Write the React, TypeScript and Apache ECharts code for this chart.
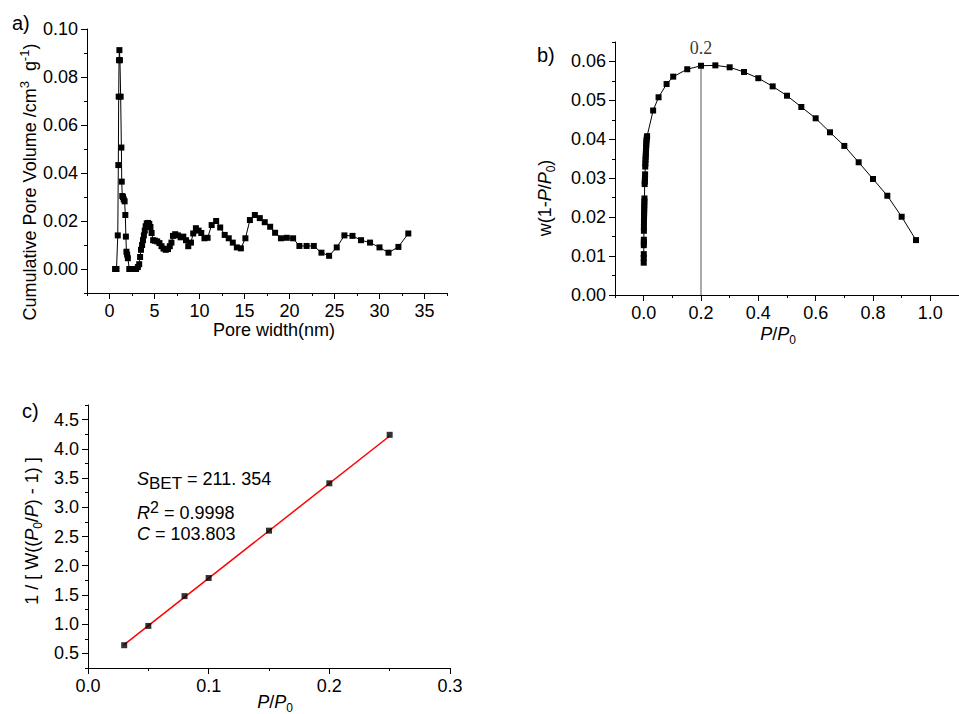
import React, { useEffect, useRef } from "react";
import * as echarts from "echarts";

// ---------- Panel a: pore size distribution ----------
const aPoreWidth = [
  0.62, 0.78, 0.92, 0.98, 1.02, 1.06, 1.1, 1.16, 1.24, 1.32,
  1.36, 1.42, 1.5, 1.58, 1.68, 1.76, 1.82, 1.88, 1.96, 2.04,
  2.2, 2.45, 2.7, 2.95, 3.15, 3.3, 3.4, 3.5, 3.62, 3.72,
  3.82, 3.92, 4.02, 4.14, 4.28, 4.42, 4.55, 4.68, 4.85, 5.05,
  5.3, 5.55, 5.78, 6.0, 6.25, 6.5, 6.7, 6.88, 7.05, 7.3,
  7.6, 7.9, 8.2, 8.5, 8.75, 9.05, 9.3, 9.6, 9.9, 10.2,
  10.55, 10.9, 11.35, 11.85, 12.3, 12.8, 13.25, 13.7, 14.15, 14.6,
  15.1, 15.6, 16.15, 16.7, 17.25, 17.85, 18.4, 19.05, 19.7, 20.4,
  21.1, 21.9, 22.7, 23.55, 24.4, 25.25, 26.1, 27.0, 27.95, 28.95,
  30.0, 31.0, 32.1, 33.2,
];
const aPoreVolume = [
  0.0, 0.0, 0.014, 0.0433, 0.0718, 0.087, 0.0912, 0.087, 0.0718, 0.0506,
  0.0364, 0.0304, 0.03, 0.029, 0.0282, 0.0225, 0.0135, 0.0072, 0.006, 0.0045,
  0.0, 0.0, 0.0, 0.0, 0.0008, 0.002, 0.005, 0.008, 0.01, 0.012,
  0.014, 0.016, 0.0178, 0.019, 0.0192, 0.0188, 0.0175, 0.015, 0.012, 0.0118,
  0.0115, 0.0108, 0.0095, 0.0085, 0.008, 0.0083, 0.0095, 0.011, 0.0138, 0.0145,
  0.014, 0.0132, 0.0135, 0.012, 0.0095, 0.011, 0.0148, 0.017, 0.016, 0.015,
  0.0128, 0.013, 0.0183, 0.02, 0.0173, 0.0142, 0.0128, 0.011, 0.009, 0.0086,
  0.0128, 0.0204, 0.0225, 0.0212, 0.0195, 0.0176, 0.0151, 0.0128, 0.013, 0.0128,
  0.0096, 0.0096, 0.0096, 0.0068, 0.0055, 0.009, 0.014, 0.0138, 0.012, 0.011,
  0.009, 0.0068, 0.0092, 0.0148,
];
const aXLabels = [0, 5, 10, 15, 20, 25, 30, 35];
const aXMinor = [-2.5, 2.5, 7.5, 12.5, 17.5, 22.5, 27.5, 32.5, 37.5];
const aYLabels = [0.0, 0.02, 0.04, 0.06, 0.08, 0.1];
const aYMinor = [-0.01, 0.01, 0.03, 0.05, 0.07, 0.09];

// ---------- Panel b: w(1-P/P0) vs P/P0 ----------
const bRelPressure = [
  0.0002, 0.0003, 0.0004, 0.0005, 0.0006, 0.0007, 0.0008, 0.0009, 0.001, 0.0012,
  0.0014, 0.0016, 0.0018, 0.002, 0.0022, 0.0025, 0.0028, 0.0035, 0.004, 0.0045,
  0.005, 0.0055, 0.006, 0.0065, 0.007, 0.0075, 0.008, 0.0085, 0.009, 0.0095,
  0.01, 0.011, 0.012, 0.033, 0.052, 0.08, 0.103, 0.152, 0.2, 0.25,
  0.3, 0.35, 0.4, 0.45, 0.5, 0.55, 0.6, 0.65, 0.7, 0.75,
  0.8, 0.85, 0.9, 0.95,
];
const bWValue = [
  0.0083, 0.0095, 0.0105, 0.0128, 0.0135, 0.0142, 0.0165, 0.0175, 0.0188, 0.0195,
  0.0203, 0.021, 0.0218, 0.0225, 0.0232, 0.024, 0.0248, 0.0285, 0.0292, 0.03,
  0.031, 0.033, 0.0338, 0.0347, 0.0355, 0.0362, 0.037, 0.0378, 0.0385, 0.0392,
  0.0398, 0.0404, 0.0408, 0.0474, 0.0508, 0.0542, 0.0561, 0.058, 0.0589, 0.059,
  0.0585, 0.0573, 0.0557, 0.0536, 0.0512, 0.0483, 0.0454, 0.0418, 0.0383, 0.0341,
  0.0298, 0.0255, 0.0201, 0.0141,
];
const bMarkerP = 0.2;
const bXLabels = [0.0, 0.2, 0.4, 0.6, 0.8, 1.0];
const bXMinor = [-0.1, 0.1, 0.3, 0.5, 0.7, 0.9, 1.1];
const bYLabels = [0.0, 0.01, 0.02, 0.03, 0.04, 0.05, 0.06];
const bYMinor = [0.005, 0.015, 0.025, 0.035, 0.045, 0.055, 0.065];

// ---------- Panel c: BET plot ----------
const cRelPressure = [0.03, 0.05, 0.08, 0.1, 0.15, 0.2, 0.25];
const cBETValue = [0.64, 0.97, 1.48, 1.79, 2.6, 3.41, 4.24];
const cFitX = [0.03, 0.25];
const cFitY = [0.65, 4.22];
const cXLabels = [0.0, 0.1, 0.2, 0.3];
const cXMinor = [0.05, 0.15, 0.25];
const cYLabels = [0.5, 1.0, 1.5, 2.0, 2.5, 3.0, 3.5, 4.0, 4.5];
const cYMinor = [0.25, 0.75, 1.25, 1.75, 2.25, 2.75, 3.25, 3.75, 4.25, 4.75];

const FONT = "'Liberation Sans', Arial, Helvetica, sans-serif";
const SERIF = "'Liberation Serif', 'Times New Roman', serif";

function zip(xs: number[], ys: number[]) {
  return xs.map((x, i) => [x, ys[i]]);
}

function majorAxis(gridIndex: number, min: number, max: number, labels: number[], digits: number, position: string) {
  return {
    type: "value",
    gridIndex,
    min,
    max,
    position,
    axisLine: { show: true, onZero: false, lineStyle: { color: "#000", width: 1 } },
    axisTick: { show: true, customValues: labels, length: 6, lineStyle: { color: "#000", width: 1 } },
    axisLabel: {
      show: true,
      customValues: labels,
      formatter: (v: number) => v.toFixed(digits),
      color: "#000",
      fontSize: 18,
      fontFamily: FONT,
      margin: 9,
    },
    splitLine: { show: false },
  };
}

function minorAxis(gridIndex: number, min: number, max: number, ticks: number[], position: string) {
  return {
    type: "value",
    gridIndex,
    min,
    max,
    position,
    axisLine: { show: false, onZero: false },
    axisTick: { show: true, customValues: ticks, length: 3, lineStyle: { color: "#000", width: 1 } },
    axisLabel: { show: false },
    splitLine: { show: false },
  };
}

const baseText = { fontSize: 18, fontFamily: FONT, fill: "#000" };
const richDefs = {
  i: { fontSize: 18, fontFamily: FONT, fontStyle: "italic", fill: "#000" },
  sub: { fontSize: 12, lineHeight: 12, fontFamily: FONT, fill: "#000", verticalAlign: "bottom" },
  sup: { fontSize: 13, lineHeight: 12, fontFamily: FONT, fill: "#000", verticalAlign: "top" },
  subL: { fontSize: 17, lineHeight: 17, fontFamily: FONT, fill: "#000", verticalAlign: "bottom" },
  supL: { fontSize: 16, lineHeight: 14, fontFamily: FONT, fill: "#000", verticalAlign: "top" },
};

function txt(x: number, y: number, text: string, opts: any = {}) {
  const { rotation, align, fontSize, fontFamily, lineHeight } = opts;
  return {
    type: "text",
    x,
    y,
    rotation: rotation || 0,
    silent: true,
    style: {
      ...baseText,
      text,
      rich: richDefs,
      fontSize: fontSize || 18,
      fontFamily: fontFamily || FONT,
      lineHeight: lineHeight || 24,
      align: align || "center",
      verticalAlign: "middle",
    },
  };
}

export default function App() {
  const ref = useRef<HTMLDivElement>(null);

  useEffect(() => {
    if (!ref.current) return;
    const chart = echarts.init(ref.current, undefined, { renderer: "svg" });

    const bPeakIdx = bRelPressure.indexOf(bMarkerP);
    const bPeak = bWValue[bPeakIdx];

    const option: any = {
      animation: false,
      backgroundColor: "#fff",
      grid: [
        { left: 87, top: 29, width: 360, height: 264 },
        { left: 615, top: 42, width: 353, height: 253 },
        { left: 88, top: 405, width: 362, height: 263 },
      ],
      xAxis: [
        majorAxis(0, -2.5, 37.5, aXLabels, 0, "bottom"),
        minorAxis(0, -2.5, 37.5, aXMinor, "bottom"),
        majorAxis(1, -0.1, 1.1, bXLabels, 1, "bottom"),
        minorAxis(1, -0.1, 1.1, bXMinor, "bottom"),
        majorAxis(2, 0, 0.3, cXLabels, 1, "bottom"),
        minorAxis(2, 0, 0.3, cXMinor, "bottom"),
      ],
      yAxis: [
        majorAxis(0, -0.01, 0.1, aYLabels, 2, "left"),
        minorAxis(0, -0.01, 0.1, aYMinor, "left"),
        majorAxis(1, 0, 0.065, bYLabels, 2, "left"),
        minorAxis(1, 0, 0.065, bYMinor, "left"),
        majorAxis(2, 0.25, 4.75, cYLabels, 1, "left"),
        minorAxis(2, 0.25, 4.75, cYMinor, "left"),
      ],
      series: [
        {
          type: "line",
          xAxisIndex: 0,
          yAxisIndex: 0,
          data: zip(aPoreWidth, aPoreVolume),
          symbol: "rect",
          symbolSize: 6,
          showAllSymbol: true,
          itemStyle: { color: "#000" },
          lineStyle: { color: "#000", width: 1 },
          emphasis: { disabled: true },
        },
        {
          type: "line",
          xAxisIndex: 2,
          yAxisIndex: 2,
          data: [
            [bMarkerP, 0],
            [bMarkerP, bPeak],
          ],
          symbol: "none",
          lineStyle: { color: "#555", width: 1 },
          emphasis: { disabled: true },
        },
        {
          type: "line",
          xAxisIndex: 2,
          yAxisIndex: 2,
          data: zip(bRelPressure, bWValue),
          symbol: "rect",
          symbolSize: 6,
          showAllSymbol: true,
          itemStyle: { color: "#000" },
          lineStyle: { color: "#000", width: 1 },
          emphasis: { disabled: true },
        },
        {
          type: "scatter",
          xAxisIndex: 2,
          yAxisIndex: 2,
          data: [[bMarkerP, bPeak]],
          symbolSize: 1,
          itemStyle: { color: "rgba(0,0,0,0)" },
          label: {
            show: true,
            position: "top",
            distance: 8,
            formatter: String(bMarkerP),
            fontFamily: SERIF,
            fontSize: 18,
            color: "#000",
          },
          emphasis: { disabled: true },
        },
        {
          type: "line",
          xAxisIndex: 4,
          yAxisIndex: 4,
          data: zip(cFitX, cFitY),
          symbol: "none",
          lineStyle: { color: "#ff0000", width: 1.5 },
          z: 2,
          emphasis: { disabled: true },
        },
        {
          type: "scatter",
          xAxisIndex: 4,
          yAxisIndex: 4,
          data: zip(cRelPressure, cBETValue),
          symbol: "rect",
          symbolSize: 6,
          itemStyle: { color: "#000" },
          z: 3,
          emphasis: { disabled: true },
        },
      ],
      graphic: [
        txt(12, 23, "a)", { align: "left", fontSize: 20 }),
        txt(537, 55, "b)", { align: "left", fontSize: 20 }),
        txt(22, 411, "c)", { align: "left", fontSize: 20 }),
        txt(30, 182, "Cumulative Pore Volume /cm{sup|3}  g{sup|-1})", { rotation: Math.PI / 2 }),
        txt(274, 330, "Pore width(nm)"),
        txt(545, 198, "w(1-{i|P}/{i|P}{sub|0})", { rotation: Math.PI / 2 }),
        txt(778, 334, "{i|P}/{i|P}{sub|0}"),
        txt(32, 531, "1 / [ W(({i|P}{sub|0}/{i|P}) - 1) ]", { rotation: Math.PI / 2 }),
        txt(275, 702, "{i|P}/{i|P}{sub|0}"),
        txt(137, 479, "{i|S}{subL|BET} = 211. 354", { align: "left", lineHeight: 26 }),
        txt(137, 513, "{i|R}{supL|2} = 0.9998", { align: "left", lineHeight: 28 }),
        txt(137, 534, "{i|C} = 103.803", { align: "left" }),
      ],
    };

    chart.setOption(option);
    return () => {
      chart.dispose();
    };
  }, []);

  return (
    <div
      ref={ref}
      style={{ position: "absolute", left: 0, top: 0, width: 959, height: 714 }}
    />
  );
}
